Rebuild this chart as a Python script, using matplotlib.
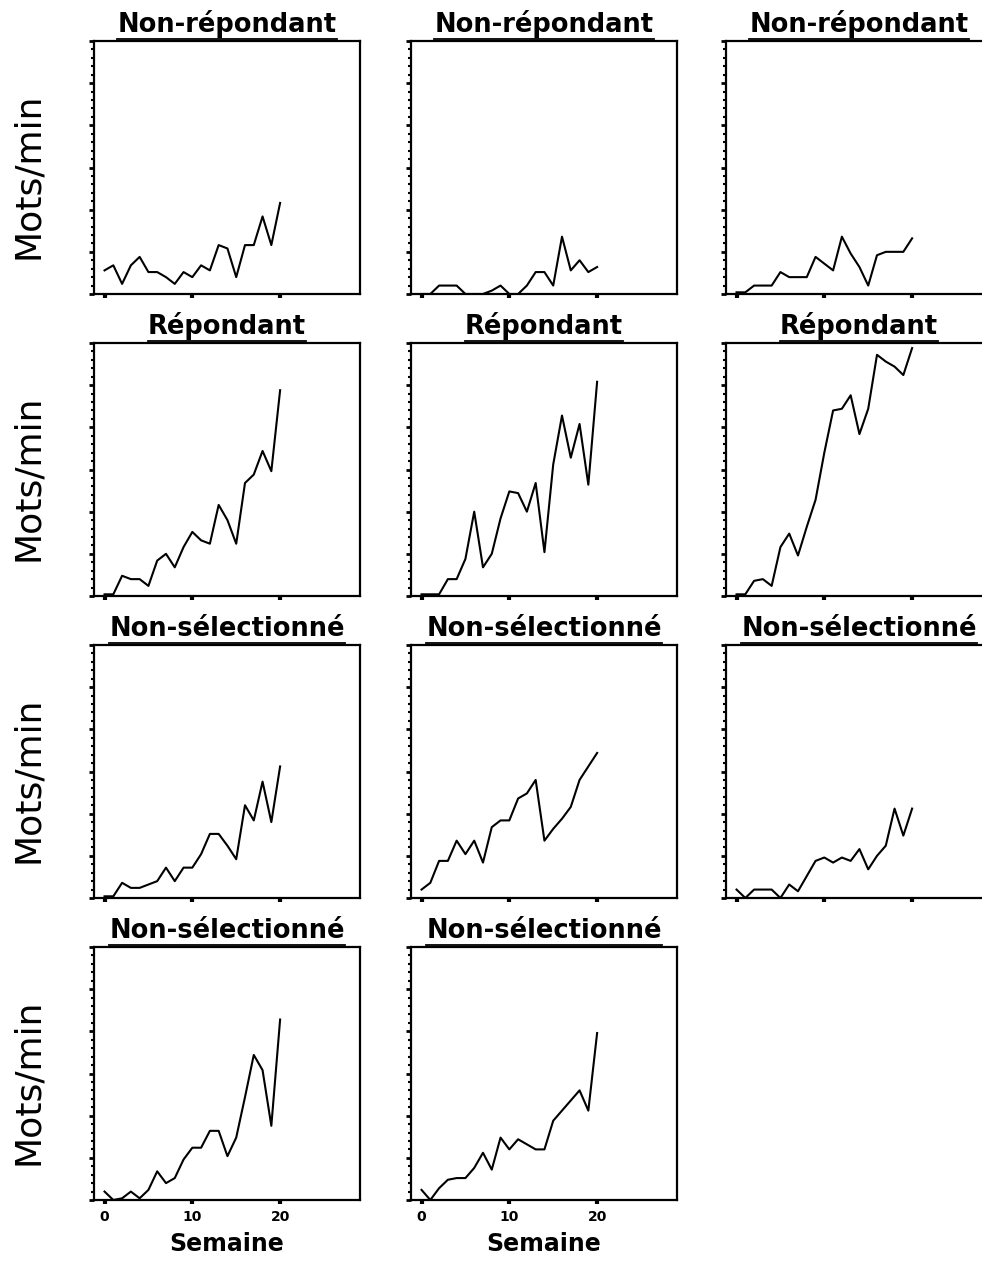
import matplotlib
matplotlib.use('Agg')
import matplotlib.pyplot as plt
from matplotlib.lines import Line2D
from matplotlib.ticker import MultipleLocator
import numpy as np

# weeks 0..20, words per minute
weeks = list(range(21))

nr_1 = [14, 17, 6, 17, 22, 13, 13, 10, 6, 13, 10, 17, 14, 29, 27, 10, 29, 29, 46, 29, 54]
nr_2 = [0, 0, 5, 5, 5, 0, 0, 0, 2, 5, 0, 0, 5, 13, 13, 5, 34, 14, 20, 13, 16]
nr_3 = [1, 1, 5, 5, 5, 13, 10, 10, 10, 22, 18, 14, 34, 24, 16, 5, 23, 25, 25, 25, 33]

rep_1 = [1, 1, 12, 10, 10, 6, 21, 25, 17, 29, 38, 33, 31, 54, 45, 31, 67, 72, 86, 74, 122]
rep_2 = [1, 1, 1, 10, 10, 22, 50, 17, 25, 46, 62, 61, 50, 67, 26, 78, 107, 82, 102, 66, 127]
rep_3 = [1, 1, 9, 10, 6, 29, 37, 24, 41, 57, 85, 110, 111, 119, 96, 111, 143, 139, 136, 131, 147]

ns_1 = [1, 1, 9, 6, 6, 8, 10, 18, 10, 18, 18, 26, 38, 38, 31, 23, 55, 46, 69, 45, 78]
ns_2 = [5, 9, 22, 22, 34, 26, 34, 21, 42, 46, 46, 59, 62, 70, 34, 41, 47, 54, 70, 78, 86]
ns_3 = [5, 0, 5, 5, 5, 0, 8, 4, 13, 22, 24, 21, 24, 22, 29, 17, 25, 31, 53, 37, 53]
ns_4 = [5, 0, 1, 5, 1, 6, 17, 10, 13, 24, 31, 31, 41, 41, 26, 37, 61, 86, 77, 44, 107]
ns_5 = [6, 0, 7, 12, 13, 13, 19, 28, 18, 37, 30, 36, 33, 30, 30, 47, 53, 59, 65, 53, 99]

series = [[nr_1, nr_2, nr_3],
          [rep_1, rep_2, rep_3],
          [ns_1, ns_2, ns_3],
          [ns_4, ns_5]]
titles = ['Non-répondant', 'Répondant', 'Non-sélectionné', 'Non-sélectionné']
x_ticks = [0, 10, 20]

W, H = 982, 1262
fig = plt.figure(figsize=(W / 100, H / 100), dpi=100)

col_left = [94, 411, 726]
row_bottom = [294, 596, 898, 1200]
aw, ah = 266, 253

title_texts = []
for r, row in enumerate(series):
    for c, ys in enumerate(row):
        ax = fig.add_axes([col_left[c] / W, (H - row_bottom[r]) / H, aw / W, ah / H])
        ax.plot(weeks, ys, color='black', lw=1.5)
        ax.set_xlim(-1.2, 29.1)
        ax.set_ylim(0, 150)
        for s in ax.spines.values():
            s.set_linewidth(1.6)
        ax.set_xticks(x_ticks)
        ax.yaxis.set_major_locator(MultipleLocator(25))
        ax.yaxis.set_minor_locator(MultipleLocator(5))
        ax.set_yticklabels([])
        ax.tick_params(axis='x', direction='out', length=3, width=3, pad=4,
                       labelsize=10)
        ax.tick_params(axis='y', which='major', direction='out', length=3.5, width=2)
        ax.tick_params(axis='y', which='minor', direction='out', length=2.5, width=1.5)
        if r == 3:
            for lab in ax.get_xticklabels():
                lab.set_fontweight('bold')
            ax.set_xlabel('Semaine', fontsize=17, fontweight='bold', labelpad=6)
        else:
            ax.set_xticklabels([])
        t = ax.text(0.5, 1.0 + 9 / ah, titles[r], transform=ax.transAxes,
                    ha='center', va='baseline', fontsize=18.5, fontweight='bold')
        title_texts.append(t)
    fig.text(28 / W, (H - row_bottom[r] + ah / 2 - 8) / H, 'Mots/min',
             rotation=90, ha='center', va='center', fontsize=26)

# underline the titles like the original bitmap font
fig.canvas.draw()
rend = fig.canvas.get_renderer()
for t in title_texts:
    bb = t.get_window_extent(rend)
    y = (bb.y0 - 1) / H
    fig.add_artist(Line2D([bb.x0 / W, bb.x1 / W], [y, y], color='black', lw=1.3))

fig.savefig('out.png', dpi=100)
